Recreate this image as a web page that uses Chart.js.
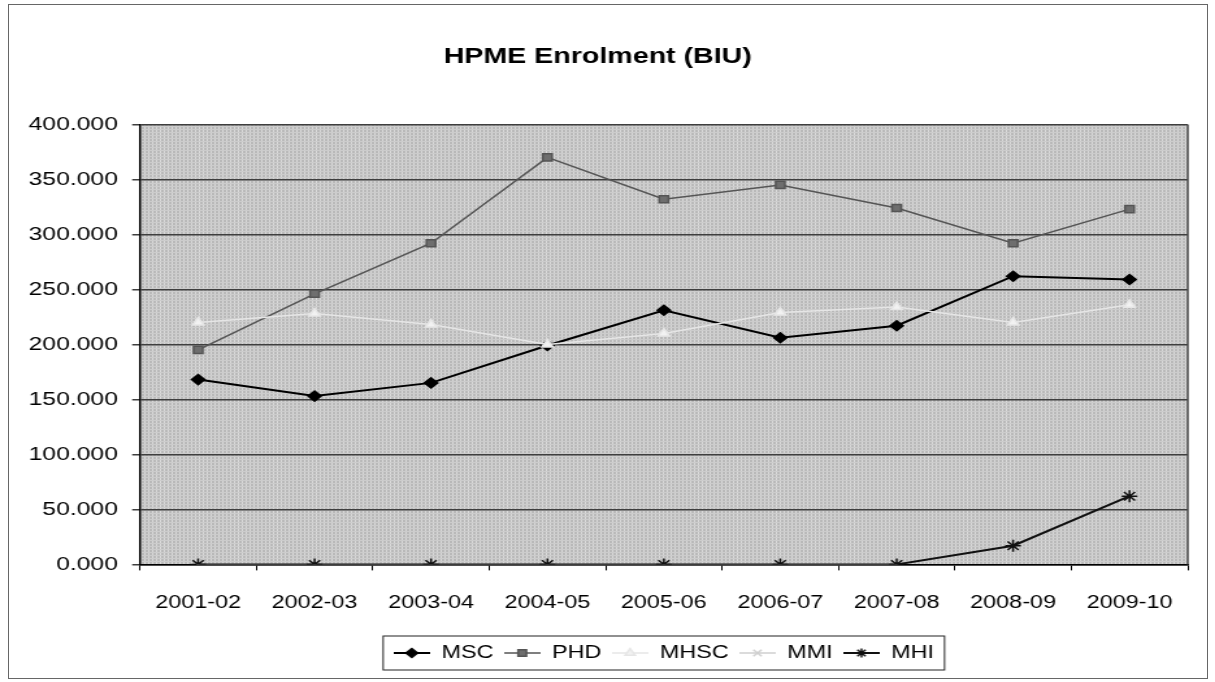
<!DOCTYPE html>
<html>
<head>
<meta charset="utf-8">
<script src="https://cdn.jsdelivr.net/npm/chart.js@4/dist/chart.umd.min.js"></script>
<style>
  html, body { margin: 0; padding: 0; background: #fff; }
  body { width: 1215px; height: 682px; position: relative; overflow: hidden; }
  .frame { position: absolute; left: 8px; top: 4px; width: 1198px; height: 673px; border: 1px solid #666; }
  .wrap { position: absolute; left: 0; top: 0; width: 935px; height: 682px; transform: scaleX(1.2995); transform-origin: 0 0; }
</style>
</head>
<body>
<div class="frame"></div>
<div class="wrap"><canvas id="chart"></canvas></div>
<script>
// data
const years = ["2001-02", "2002-03", "2003-04", "2004-05", "2005-06", "2006-07", "2007-08", "2008-09", "2009-10"];
const msc = [168, 153, 165, 199, 231, 206, 217, 262, 259];
const phd = [195, 246, 292, 370, 332, 345, 324, 292, 323];
const mhsc = [220, 228, 218, 200, 210, 229, 234, 220, 236];
const mmi = [0, 0, 0, 0, 0, 0, 0, null, null];
const mhi = [0, 0, 0, 0, 0, 0, 0, 17, 62];
const yTicks = [0, 50, 100, 150, 200, 250, 300, 350, 400];

const font = "'Liberation Sans', Arial, sans-serif";

// mesh-like grey fill of the plot area
let pat = document.createElement("canvas");
pat.width = 3; pat.height = 3;
let pc = pat.getContext("2d");
pc.fillStyle = "#b9b9b9"; pc.fillRect(0, 0, 3, 3);
pc.fillStyle = "#dadada"; pc.fillRect(0, 0, 1, 3);
pc.fillStyle = "#cccccc"; pc.fillRect(0, 0, 3, 1);

let series = [
  { label: "MSC", data: msc, color: "#000", width: 2, style: "rectRot", radius: 5, fill: "#000" },
  { label: "PHD", data: phd, color: "#555", width: 1.5, style: "rect", radius: 5, fill: "#6e6e6e" },
  { label: "MHSC", data: mhsc, color: "#e6e6e6", width: 1.5, style: "triangle", radius: 5, fill: "#f2f2f2" },
  { label: "MMI", data: mmi, color: "#cfcfcf", width: 1.5, style: "crossRot", radius: 5, fill: "#cfcfcf" },
  { label: "MHI", data: mhi, color: "#111", width: 2, style: "star", radius: 6, fill: "#111" },
];

// little "line + marker" samples for the legend
let icons = series.map(s => {
  let c = document.createElement("canvas");
  c.width = 28; c.height = 14;
  let g = c.getContext("2d");
  g.strokeStyle = s.color; g.lineWidth = s.width;
  g.beginPath(); g.moveTo(0, 7); g.lineTo(28, 7); g.stroke();
  g.fillStyle = s.fill; g.strokeStyle = s.color; g.lineWidth = 1.5;
  Chart.helpers.drawPoint(g, { pointStyle: s.style, radius: 4.5, borderWidth: 1.5 }, 14, 7);
  return c;
});

const plotBg = {
  id: "plotBg",
  beforeDraw(chart) {
    let { ctx, chartArea: a } = chart;
    ctx.save();
    ctx.fillStyle = ctx.createPattern(pat, "repeat");
    ctx.fillRect(a.left, a.top, a.width, a.height);
    ctx.restore();
  },
  afterLayout(chart) {
    // center the legend under the plot area, like the original
    let lg = chart.legend, a = chart.chartArea;
    let w = lg.right - lg.left;
    let c = (a.left + a.right) / 2;
    lg.left = c - w / 2; lg.right = c + w / 2;
  },
  afterDraw(chart) {
    let { ctx, chartArea: a } = chart;
    ctx.save();
    ctx.strokeStyle = "#444"; ctx.lineWidth = 1.5;
    ctx.beginPath(); ctx.moveTo(a.right, a.top); ctx.lineTo(a.right, a.bottom); ctx.stroke();
    // legend frame
    let lg = chart.legend;
    let w = lg.lineWidths[0] + 8;
    let c = (a.left + a.right) / 2;
    let cy = lg.legendHitBoxes[0].top + lg.legendHitBoxes[0].height / 2;
    ctx.strokeStyle = "#222"; ctx.lineWidth = 1;
    ctx.strokeRect(c - w / 2, cy - 17, w, 34);
    ctx.restore();
  }
};

new Chart(document.getElementById("chart"), {
  type: "line",
  data: {
    labels: years,
    datasets: series.map(s => ({
      label: s.label,
      data: s.data,
      borderColor: s.color,
      borderWidth: s.width,
      backgroundColor: s.fill,
      pointStyle: s.style,
      pointRadius: s.radius,
      pointBorderColor: s.color,
      pointBackgroundColor: s.fill,
      pointBorderWidth: 1.5,
      tension: 0,
      spanGaps: false,
    })).reverse(),
  },
  options: {
    responsive: true,
    maintainAspectRatio: false,
    animation: false,
    layout: { padding: { left: 6, right: 21, top: 0, bottom: 10 } },
    plugins: {
      title: {
        display: true,
        text: "HPME Enrolment (BIU)",
        color: "#000",
        font: { family: font, size: 22, weight: "bold" },
        padding: { top: 44, bottom: 54 },
      },
      legend: {
        position: "bottom",
        reverse: true,
        labels: {
          color: "#000",
          font: { family: font, size: 18 },
          usePointStyle: true,
          pointStyleWidth: 28,
          padding: 8,
          boxHeight: 14,
          generateLabels(chart) {
            let items = Chart.defaults.plugins.legend.labels.generateLabels(chart);
            return items.map(it => {
              let idx = series.findIndex(s => s.label === it.text);
              it.pointStyle = icons[idx];
              return it;
            });
          },
        },
      },
      tooltip: { enabled: false },
    },
    scales: {
      x: {
        offset: true,
        grid: { offset: true, drawOnChartArea: false, drawTicks: true, tickLength: 6, color: "#000" },
        border: { color: "#000", width: 1.5 },
        ticks: { color: "#000", font: { family: font, size: 18 }, padding: 22, maxRotation: 0 },
      },
      y: {
        min: 0,
        max: 400,
        afterFit(scale) { scale.width = 101.7; },
        afterBuildTicks(scale) { scale.ticks = yTicks.map(v => ({ value: v })); },
        grid: { color: "#3e3e3e", lineWidth: 1.5, tickLength: 6 },
        border: { color: "#000", width: 1.5 },
        ticks: {
          color: "#000",
          font: { family: font, size: 19 },
          padding: 11,
          callback: v => v.toFixed(3),
        },
      },
    },
  },
  plugins: [plotBg],
});
</script>
</body>
</html>
